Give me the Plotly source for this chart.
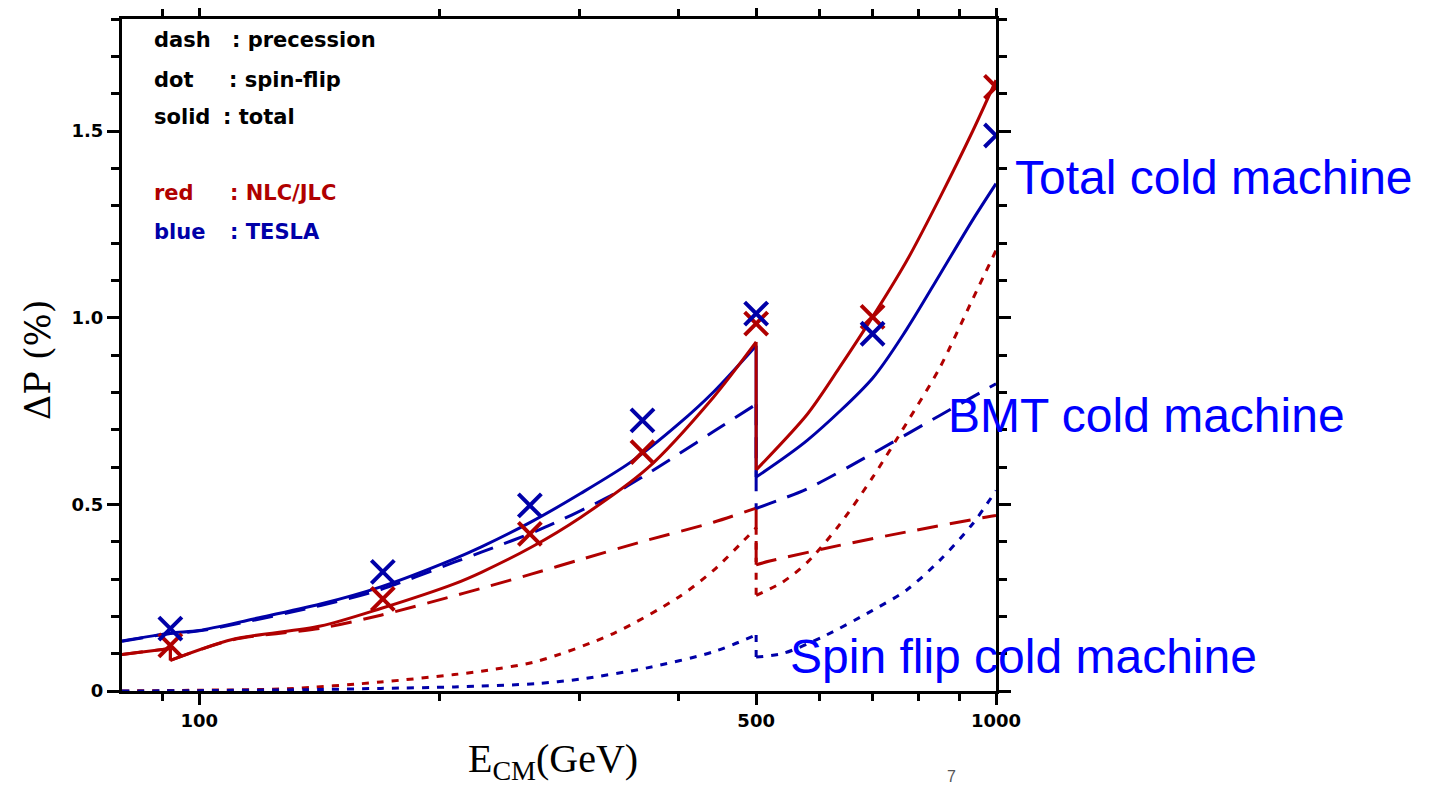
import math
import plotly.graph_objects as go

# ---------------- data ----------------
# NLC/JLC (red)
E_NLC_TOTAL = [80, 92, 92, 110, 142, 169, 209, 226, 261, 301, 365, 442, 500, 500, 580, 636, 700, 772, 850, 935, 1000]
P_NLC_TOTAL = [0.098, 0.114, 0.082, 0.138, 0.174, 0.221, 0.287, 0.318, 0.385, 0.465, 0.596, 0.787, 0.935, 0.592, 0.742, 0.866, 1.002, 1.151, 1.321, 1.500, 1.636]

E_NLC_PREC = [80, 92, 92, 110, 142, 169, 209, 226, 261, 301, 365, 442, 500, 500, 520, 636, 772, 974, 1000]
P_NLC_PREC = [0.098, 0.114, 0.082, 0.137, 0.168, 0.203, 0.255, 0.275, 0.313, 0.352, 0.404, 0.452, 0.490, 0.338, 0.348, 0.390, 0.426, 0.466, 0.470]

E_NLC_FLIP = [80, 100, 129, 169, 209, 226, 266, 331, 400, 442, 487, 500, 500, 540, 580, 636, 700, 772, 850, 935, 1000]
P_NLC_FLIP = [0.0, 0.002, 0.006, 0.024, 0.044, 0.053, 0.080, 0.154, 0.252, 0.323, 0.412, 0.437, 0.256, 0.292, 0.345, 0.445, 0.572, 0.717, 0.866, 1.050, 1.180]

# TESLA (blue)
E_TESLA_TOTAL = [80, 92, 100, 117, 142, 169, 209, 226, 261, 301, 348, 400, 442, 500, 500, 580, 700, 772, 850, 935, 1000]
P_TESLA_TOTAL = [0.134, 0.155, 0.162, 0.193, 0.233, 0.279, 0.354, 0.386, 0.453, 0.529, 0.613, 0.716, 0.801, 0.925, 0.573, 0.672, 0.838, 0.968, 1.115, 1.262, 1.359]

E_TESLA_PREC = [80, 92, 100, 142, 169, 209, 226, 266, 325, 361, 400, 442, 500, 500, 580, 700, 850, 1000]
P_TESLA_PREC = [0.133, 0.154, 0.161, 0.229, 0.272, 0.345, 0.372, 0.430, 0.518, 0.575, 0.635, 0.695, 0.768, 0.489, 0.542, 0.636, 0.738, 0.823]

E_TESLA_FLIP = [80, 100, 142, 169, 209, 266, 301, 365, 442, 500, 500, 541, 606, 700, 772, 850, 935, 1000]
P_TESLA_FLIP = [0.0, 0.001, 0.004, 0.007, 0.011, 0.020, 0.032, 0.062, 0.105, 0.150, 0.091, 0.101, 0.145, 0.216, 0.270, 0.350, 0.448, 0.537]

# measured points (crosses)
E_POINTS = [92, 170, 260, 360, 500, 700, 1000]
P_NLC_POINTS = [0.122, 0.247, 0.421, 0.640, 0.984, 1.002, 1.618]
P_TESLA_POINTS = [0.167, 0.319, 0.497, 0.725, 1.011, 0.957, 1.488]

# axes
X_RANGE = [80, 1000]
Y_RANGE = [0, 1.8]
X_TICKS = [100, 500, 1000]
X_TICK_LABELS = ["100", "500", "1000"]
X_MINOR_TICKS = [90, 200, 300, 400, 600, 700, 800, 900]
Y_TICKS = [0, 0.5, 1.0, 1.5]
Y_TICK_LABELS = ["0", "0.5", "1.0", "1.5"]

# key text
KEY_LEFT = ["dash", "dot", "solid", "red", "blue"]
KEY_RIGHT = [": precession", ": spin-flip", ": total", ": NLC/JLC", ": TESLA"]

RED = "#B00000"
BLUE = "#0000A8"
KEY_COLORS = ["black", "black", "black", RED, BLUE]

# ---------------- figure ----------------
OFF = 8                      # page body margin
W, H = 1431 - OFF, 790 - OFF
L, R, T, B = 122 - OFF, 996 - OFF, 19 - OFF, 691 - OFF   # plot-area pixel box


def px(xp):
    return (xp - OFF - L) / (R - L)


def py(yp):
    return (B - (yp - OFF)) / (B - T)


def pieces(xs, ys):
    """split a curve at its vertical jumps: smooth parts and straight drops"""
    out = []
    start = 0
    for i in range(1, len(xs)):
        if xs[i] == xs[i - 1]:
            out.append(("spline", xs[start:i], ys[start:i]))
            out.append(("linear", xs[i - 1:i + 1], ys[i - 1:i + 1]))
            start = i
    out.append(("spline", xs[start:], ys[start:]))
    return out


fig = go.Figure()

DASH = "21px,12px"
DOT = "7px,8px"

series = [
    (E_NLC_PREC, P_NLC_PREC, RED, DASH),
    (E_NLC_FLIP, P_NLC_FLIP, RED, DOT),
    (E_TESLA_PREC, P_TESLA_PREC, BLUE, DASH),
    (E_TESLA_FLIP, P_TESLA_FLIP, BLUE, DOT),
    (E_TESLA_TOTAL, P_TESLA_TOTAL, BLUE, "solid"),
    (E_NLC_TOTAL, P_NLC_TOTAL, RED, "solid"),
]
for xs, ys, col, dash in series:
    for shape, sx, sy in pieces(xs, ys):
        line = dict(color=col, width=3, dash=dash, shape=shape)
        if shape == "spline":
            line["smoothing"] = 0.8
        fig.add_trace(go.Scatter(x=sx, y=sy, mode="lines", line=line,
                                 showlegend=False, hoverinfo="skip"))

for ys, col in [(P_NLC_POINTS, RED), (P_TESLA_POINTS, BLUE)]:
    fig.add_trace(go.Scatter(x=E_POINTS, y=ys, mode="markers",
                             marker=dict(symbol="x-thin", size=23,
                                         line=dict(color=col, width=4)),
                             showlegend=False, hoverinfo="skip"))

tickfont = dict(family="DejaVu Sans", size=18, color="black", weight="bold")

fig.update_xaxes(
    type="log", range=[math.log10(X_RANGE[0]), math.log10(X_RANGE[1])],
    automargin=False,
    tickvals=X_TICKS, ticktext=X_TICK_LABELS, ticks="outside", ticklen=11,
    tickwidth=2.5, tickcolor="black", showline=True, linecolor="black",
    linewidth=3, mirror="ticks", showgrid=False, zeroline=False,
    tickfont=tickfont,
    minor=dict(tickvals=X_MINOR_TICKS, ticks="outside", ticklen=7,
               tickwidth=2.5, tickcolor="black", showgrid=False),
)
fig.update_yaxes(
    range=Y_RANGE, automargin=False,
    tickvals=Y_TICKS, ticktext=Y_TICK_LABELS, ticks="outside",
    ticklen=12, tickwidth=2.5, tickcolor="black", showline=True,
    linecolor="black", linewidth=3, mirror="ticks", showgrid=False,
    zeroline=False, tickfont=tickfont,
    minor=dict(dtick=0.1, ticks="outside", ticklen=8, tickwidth=2.5,
               tickcolor="black", showgrid=False),
)

ann = []
# key
key_y = [40, 80, 117, 193, 232]
key_colon_x = [230, 227, 221, 228, 228]
for i in range(len(KEY_LEFT)):
    kf = dict(family="DejaVu Sans", size=21, color=KEY_COLORS[i], weight="bold")
    ann.append(dict(x=px(152), y=py(key_y[i]), xref="paper", yref="paper",
                    text=KEY_LEFT[i], showarrow=False, xanchor="left",
                    yanchor="middle", font=kf))
    ann.append(dict(x=px(key_colon_x[i]), y=py(key_y[i]), xref="paper",
                    yref="paper", text=KEY_RIGHT[i], showarrow=False,
                    xanchor="left", yanchor="middle", font=kf))

# big blue labels
bigfont = dict(family="Liberation Sans", size=48, color="#0000FF")
for txt, xl, yc in [("Total cold machine", 1013, 177),
                    ("BMT cold machine", 946, 415),
                    ("Spin flip cold machine", 788, 656)]:
    ann.append(dict(x=px(xl), y=py(yc), xref="paper", yref="paper", text=txt,
                    showarrow=False, xanchor="left", yanchor="middle",
                    font=bigfont))

# axis titles
ann.append(dict(x=px(553), y=py(761), xref="paper", yref="paper",
                text="E<sub>CM</sub>(GeV)", showarrow=False, xanchor="center",
                yanchor="middle",
                font=dict(family="Liberation Serif", size=40, color="black")))
ann.append(dict(x=px(38), y=py(360), xref="paper", yref="paper",
                text="ΔP (%)", showarrow=False, xanchor="center",
                yanchor="middle", textangle=-90,
                font=dict(family="DejaVu Serif", size=35, color="black")))
# page number
ann.append(dict(x=px(951), y=py(776), xref="paper", yref="paper", text="7",
                showarrow=False, xanchor="center", yanchor="middle",
                font=dict(family="Liberation Sans", size=16, color="#555555")))

fig.update_layout(
    width=W, height=H, autosize=False,
    margin=dict(l=L, r=W - R, t=T, b=H - B, pad=0, autoexpand=False),
    paper_bgcolor="white", plot_bgcolor="white",
    showlegend=False, annotations=ann,
)

fig.write_html("out.html")
